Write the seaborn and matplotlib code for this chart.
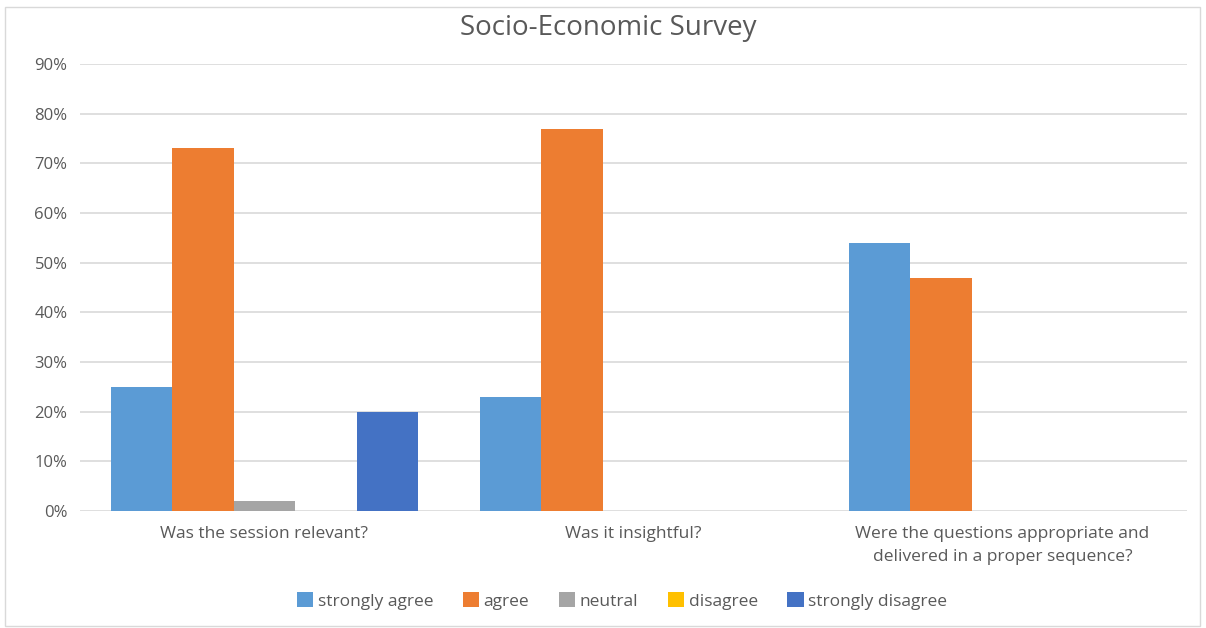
import matplotlib
matplotlib.use("Agg")
import matplotlib.pyplot as plt
import seaborn as sns
import pandas as pd
from matplotlib.patches import Rectangle, Patch
from matplotlib.ticker import PercentFormatter

categories = ["Was the session relevant?", "Was it insightful?",
              "Were the questions appropriate and\ndelivered in a proper sequence?"]
series = ["strongly agree", "agree", "neutral", "disagree", "strongly disagree"]
strongly_agree = [0.25, 0.23, 0.54]
agree = [0.73, 0.77, 0.47]
neutral = [0.02, 0.0, 0.0]
disagree = [0.0, 0.0, 0.0]
strongly_disagree = [0.20, 0.0, 0.0]
colors = ["#5B9BD5", "#ED7D31", "#A5A5A5", "#FFC000", "#4472C4"]
yticks = [0, 0.1, 0.2, 0.3, 0.4, 0.5, 0.6, 0.7, 0.8, 0.9]

values = [strongly_agree, agree, neutral, disagree, strongly_disagree]
rows = []
for s, vals in zip(series, values):
    for c, v in zip(categories, vals):
        rows.append({"category": c, "series": s, "value": v})
df = pd.DataFrame(rows)

sns.set_theme(style="white")
plt.rcParams['font.family'] = ['Open Sans', 'DejaVu Sans']
text_color = "#595959"

fig = plt.figure(figsize=(12.06, 6.28), dpi=100)
ax = fig.add_axes([80/1206, 1-511/628, (1187-80)/1206, (511-64)/628])

sns.barplot(data=df, x="category", y="value", hue="series", order=categories,
            hue_order=series, palette=colors, width=5/6, saturation=1,
            edgecolor="none", linewidth=0, ax=ax, legend=False)

ax.set_xlim(-0.5, 2.5)
ax.set_ylim(0, 0.9)
ax.set_yticks(yticks)
ax.yaxis.set_major_formatter(PercentFormatter(1.0, decimals=0))
ax.grid(axis="y", color="#D9D9D9", linewidth=1.2)
ax.set_axisbelow(True)
for sp in ax.spines.values():
    sp.set_visible(False)
ax.tick_params(axis="both", length=0, colors=text_color)
ax.tick_params(axis="y", pad=9, labelsize=12)
ax.tick_params(axis="x", pad=11, labelsize=12.5)
for lab in ax.get_xticklabels():
    lab.set_linespacing(1.55)
ax.set_xlabel("")
ax.set_ylabel("")

fig.text(608/1206, 1-28/628, "Socio-Economic Survey", ha="center", va="center",
         fontsize=20, color=text_color)

handles = [Patch(facecolor=c, edgecolor="none") for c in colors]
fig.legend(handles, series, loc="center", bbox_to_anchor=(622/1206, 1-601/628),
           ncol=5, frameon=False, fontsize=12.5, labelcolor=text_color,
           handlelength=0.95, handleheight=0.95, handletextpad=0.25, columnspacing=1.7)

fig.patches.append(Rectangle((5/1206, 2/628), 1195/1206, 619/628, transform=fig.transFigure,
                             fill=False, edgecolor="#D9D9D9", linewidth=1))

fig.savefig("out.png", dpi=100, facecolor="white")
